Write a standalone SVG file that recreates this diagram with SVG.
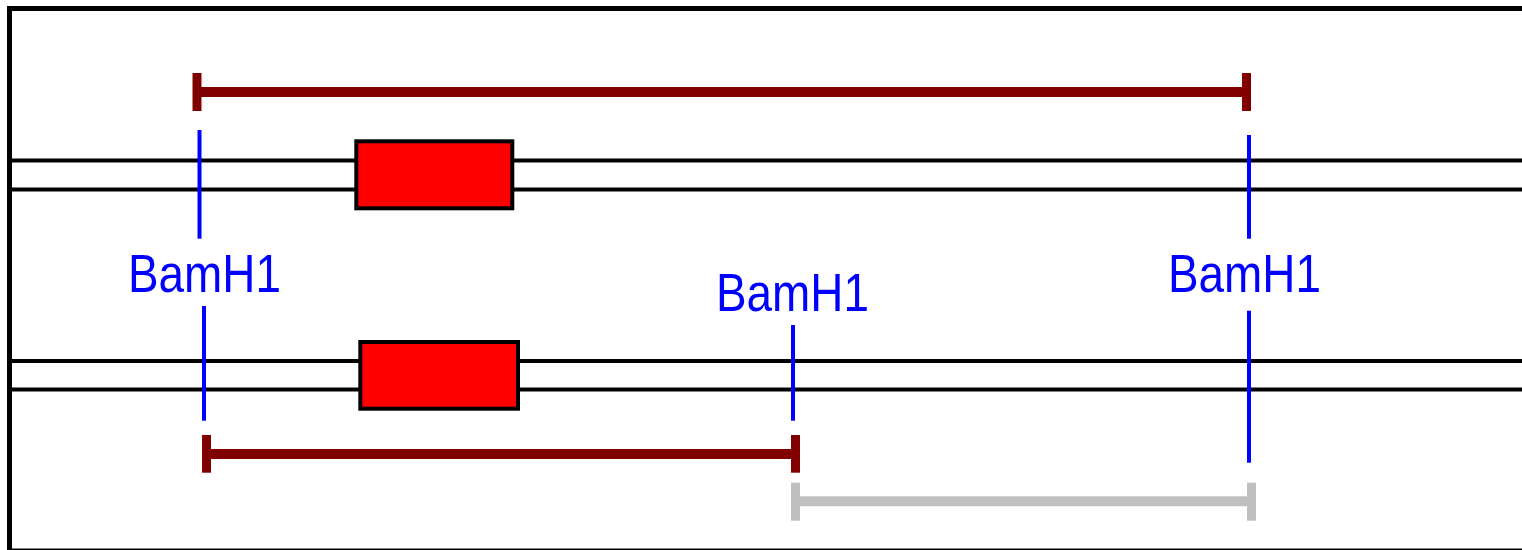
<svg xmlns="http://www.w3.org/2000/svg" width="1522" height="550" viewBox="0 0 1522 550">
  <style>
    .frame { fill: none; stroke: #000; stroke-width: 5; }
    .track { stroke: #000; stroke-width: 4; }
    .gene { fill: #f00; stroke: #000; stroke-width: 4; }
    .site { stroke: #00f; stroke-width: 4; }
    .label { font-family: "Liberation Sans", Arial, sans-serif; font-size: 54px; fill: #00f; }
    .span-dark { stroke: #800000; }
    .span-grey { stroke: #c0c0c0; }
    .bar { stroke-width: 10; }
    .cap { stroke-width: 9; }
  </style>

  <rect x="0" y="0" width="1522" height="550" fill="#fff"/>

  <!-- outer frame -->
  <g id="frame">
    <rect class="frame" x="9.5" y="8.5" width="1530" height="542.5"/>
  </g>

  <!-- two DNA strands -->
  <g id="strand-top">
    <line class="track" x1="12" y1="160.5" x2="1522" y2="160.5"/>
    <line class="track" x1="12" y1="189.5" x2="1522" y2="189.5"/>
    <rect class="gene" x="356.3" y="141.3" width="156" height="67"/>
  </g>
  <g id="strand-bottom">
    <line class="track" x1="12" y1="361" x2="1522" y2="361"/>
    <line class="track" x1="12" y1="389.5" x2="1522" y2="389.5"/>
    <rect class="gene" x="360.3" y="342" width="157.7" height="66.7"/>
  </g>

  <!-- BamH1 cut sites -->
  <g id="site-left">
    <line class="site" x1="199.5" y1="130" x2="199.5" y2="238.7"/>
    <text class="label" x="128" y="292" textLength="153" lengthAdjust="spacingAndGlyphs">BamH1</text>
    <line class="site" x1="204" y1="306" x2="204" y2="420.7"/>
  </g>
  <g id="site-middle">
    <text class="label" x="716" y="311" textLength="153" lengthAdjust="spacingAndGlyphs">BamH1</text>
    <line class="site" x1="793" y1="325" x2="793" y2="420.7"/>
  </g>
  <g id="site-right">
    <line class="site" x1="1249" y1="135" x2="1249" y2="238.7"/>
    <text class="label" x="1168" y="292" textLength="153" lengthAdjust="spacingAndGlyphs">BamH1</text>
    <line class="site" x1="1249" y1="310.7" x2="1249" y2="462.7"/>
  </g>

  <!-- fragment spans -->
  <g id="connectors">
    <g class="span-dark">
      <line class="bar" x1="197" y1="92" x2="1246.5" y2="92"/>
      <line class="cap" x1="197" y1="73" x2="197" y2="111"/>
      <line class="cap" x1="1246.5" y1="73" x2="1246.5" y2="111"/>
    </g>
    <g class="span-dark">
      <line class="bar" x1="206.5" y1="454" x2="795.5" y2="454"/>
      <line class="cap" x1="206.5" y1="435" x2="206.5" y2="472.7"/>
      <line class="cap" x1="795.5" y1="435" x2="795.5" y2="472.7"/>
    </g>
    <g class="span-grey">
      <line class="bar" x1="795.5" y1="501.3" x2="1251.5" y2="501.3"/>
      <line class="cap" x1="795.5" y1="482.7" x2="795.5" y2="520.7"/>
      <line class="cap" x1="1251.5" y1="482.7" x2="1251.5" y2="520.7"/>
    </g>
  </g>
</svg>
